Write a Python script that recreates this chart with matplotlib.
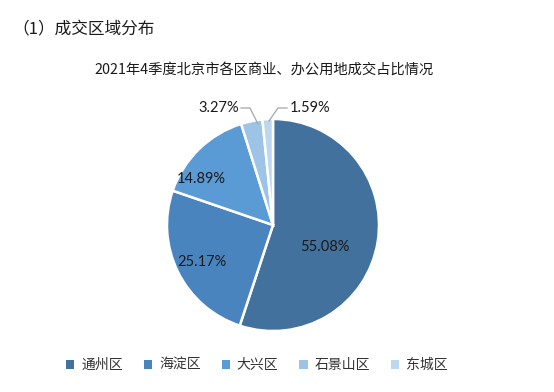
import matplotlib.pyplot as plt
from matplotlib.patches import Patch

plt.rcParams['font.family'] = ['Noto Sans CJK SC', 'DejaVu Sans']

# data
districts = ['通州区', '海淀区', '大兴区', '石景山区', '东城区']
shares = [55.08, 25.17, 14.89, 3.27, 1.59]
colors = ['#41719c', '#4a84bf', '#5b9bd5', '#9dc3e6', '#bdd7ee']
labels = ['55.08%', '25.17%', '14.89%', '3.27%', '1.59%']

W, H = 554, 392
fig = plt.figure(figsize=(W / 100, H / 100), dpi=100)
ax = fig.add_axes([0, 0, 1, 1])

cx, cy, r = 273, H - 225, 106
ax.pie(shares, colors=colors, startangle=90, counterclock=False,
       center=(cx, cy), radius=r, frame=True,
       wedgeprops=dict(edgecolor='white', linewidth=1.8))
ax.set_xlim(0, W)
ax.set_ylim(0, H)
ax.set_aspect('equal')
ax.axis('off')

lab_font = dict(family=['Lato', 'DejaVu Sans'], fontsize=10.5, color='#1a1a1a')
ax.text(325, H - 247, labels[0], ha='center', va='center', **lab_font)
ax.text(202, H - 262, labels[1], ha='center', va='center', **lab_font)
ax.text(201, H - 179, labels[2], ha='center', va='center', **lab_font)
ax.text(239, H - 108, labels[3], ha='right', va='center', **lab_font)
ax.text(290, H - 108, labels[4], ha='left', va='center', **lab_font)

# leader lines
ax.plot([241, 250, 258], [H - 108, H - 108, H - 124], color='#a6a6a6', lw=0.9)
ax.plot([269, 278, 287], [H - 121, H - 108, H - 108], color='#a6a6a6', lw=0.9)

fig.text(12 / W, 1 - 30 / H, '（1）成交区域分布', fontsize=12, ha='left', va='center',
         color='#1a1a1a')
fig.text(264 / W, 1 - 70 / H, '2021年4季度北京市各区商业、办公用地成交占比情况',
         fontsize=10.3, ha='center', va='center', color='#1a1a1a')

handles = [Patch(facecolor=c, edgecolor='none') for c in colors]
fig.legend(handles, districts, loc='center', bbox_to_anchor=(257 / W, 1 - 365 / H),
           ncol=5, frameon=False, fontsize=10, handlelength=0.6, handleheight=0.6,
           handletextpad=0.5, columnspacing=1.5, labelcolor='#333333')

fig.savefig('out.png', dpi=100)
